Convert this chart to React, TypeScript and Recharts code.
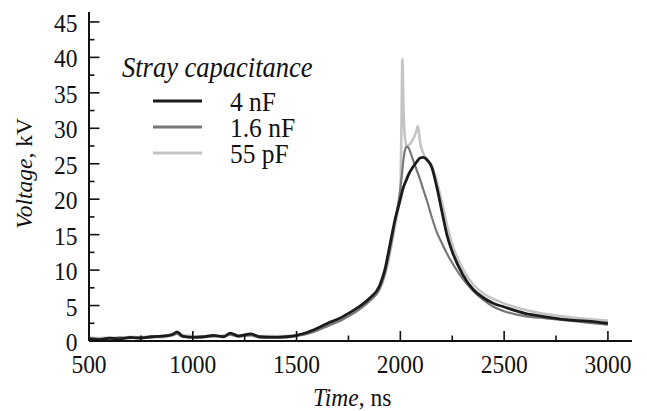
import { Line, LineChart, XAxis, YAxis } from "recharts";

const times = [
  500, 550, 600, 650, 700, 750, 800, 850, 900, 925,
  950, 1000, 1050, 1100, 1150, 1180, 1220, 1280, 1320, 1400,
  1450, 1500, 1550, 1600, 1650, 1700, 1750, 1800, 1850, 1900,
  1925, 1950, 1975, 2000, 2005, 2010, 2015, 2020, 2030, 2040,
  2060, 2075, 2085, 2095, 2110, 2130, 2150, 2175, 2200, 2225,
  2250, 2300, 2350, 2400, 2450, 2500, 2600, 2700, 2800, 2900,
  3000,
];

const nf4 = [
  0.3, 0.2, 0.4, 0.3, 0.5, 0.4, 0.6, 0.7, 0.9, 1.3,
  0.7, 0.5, 0.6, 0.8, 0.6, 1.1, 0.7, 1.0, 0.6, 0.5,
  0.6, 0.8, 1.2, 1.8, 2.5, 3.1, 3.9, 4.8, 6.0, 7.8,
  10.0, 13.6, 17.2, 20.0, 20.6, 21.2, 21.7, 22.1, 22.8, 23.5,
  24.5, 25.1, 25.5, 25.8, 25.9, 25.5, 24.6, 21.8, 18.3, 14.9,
  12.6, 9.4, 7.3, 6.1, 5.3, 4.8, 3.9, 3.4, 3.0, 2.8,
  2.5,
];

const nf16 = [
  0.4, 0.3, 0.3, 0.5, 0.4, 0.6, 0.5, 0.6, 0.8, 1.0,
  0.6, 0.6, 0.5, 0.7, 0.7, 0.9, 0.6, 0.8, 0.5, 0.6,
  0.5, 0.7, 1.0, 1.5, 2.1, 2.7, 3.5, 4.4, 5.6, 7.4,
  9.5, 12.9, 17.0, 21.5, 22.8, 24.2, 25.6, 26.6, 27.4, 27.2,
  25.6, 24.4, 23.6, 22.8, 21.4, 19.6, 17.6, 15.4, 13.8, 12.3,
  11.0, 8.8, 7.1, 5.8, 4.8, 4.2, 3.5, 3.2, 2.9, 2.6,
  2.3,
];

const pf55 = [
  0.5, 0.4, 0.5, 0.4, 0.6, 0.5, 0.7, 0.5, 0.9, 1.1,
  0.8, 0.7, 0.6, 0.6, 0.8, 1.0, 0.8, 0.9, 0.7, 0.7,
  0.7, 0.8, 1.1, 1.6, 2.2, 2.9, 3.6, 4.5, 5.7, 7.2,
  9.2, 12.4, 16.4, 21.0, 29.5, 39.8, 33.0, 29.5, 27.5, 27.6,
  28.4, 29.4, 30.3, 28.0, 26.5, 25.6, 24.8, 22.6, 19.6, 16.4,
  13.7, 10.2, 8.0, 6.7, 5.9, 5.3, 4.4, 3.8, 3.4, 3.1,
  2.9,
];

const xTicks = [500, 750, 1000, 1250, 1500, 1750, 2000, 2250, 2500, 2750, 3000];
const yTicks = [0, 2.5, 5, 7.5, 10, 12.5, 15, 17.5, 20, 22.5, 25, 27.5, 30, 32.5, 35, 37.5, 40, 42.5, 45];

const legendItems = [
  { label: "4 nF", color: "#1b1b1b", width: 3 },
  { label: "1.6 nF", color: "#777777", width: 3 },
  { label: "55 pF", color: "#c4c4c4", width: 3 },
];

const data = times.map((t, i) => ({ t, a: nf4[i], b: nf16[i], c: pf55[i] }));

const FONT = "Liberation Serif";
const STRETCH = 1.1;

function XTick(props: any) {
  const { x, y, payload } = props;
  const major = payload.value % 500 === 0;
  return (
    <g transform={`translate(${x},${y})`}>
      <line x1={0} y1={0} x2={0} y2={major ? -10 : -5.5} stroke="#111" strokeWidth={1.6} />
      {major && (
        <text
          transform={`translate(0,32) scale(1,${STRETCH})`}
          textAnchor="middle"
          style={{ fontFamily: FONT, fontSize: 23.5 }}
          fill="#111"
        >
          {payload.value}
        </text>
      )}
    </g>
  );
}

function YTick(props: any) {
  const { x, y, payload } = props;
  const major = payload.value % 5 === 0;
  return (
    <g transform={`translate(${x},${y})`}>
      <line x1={0} y1={0} x2={major ? 10.5 : 5.5} y2={0} stroke="#111" strokeWidth={1.6} />
      {major && (
        <text
          transform={`translate(-11.5,10) scale(1,${STRETCH})`}
          textAnchor="end"
          style={{ fontFamily: FONT, fontSize: 23.5 }}
          fill="#111"
        >
          {payload.value}
        </text>
      )}
    </g>
  );
}

export default function App() {
  return (
    <div style={{ position: "absolute", left: 0, top: 0, width: 647, height: 411, background: "#fff" }}>
      <LineChart
        width={647}
        height={411}
        data={data}
        margin={{ top: 12, right: 15, left: 0, bottom: 0 }}
      >
        <XAxis
          dataKey="t"
          type="number"
          domain={[500, 3116]}
          ticks={xTicks}
          interval={0}
          height={70}
          tickSize={0}
          tickMargin={0}
          tickLine={false}
          axisLine={{ stroke: "#111", strokeWidth: 2 }}
          tick={<XTick />}
        />
        <YAxis
          type="number"
          domain={[0, 46.4]}
          ticks={yTicks}
          interval={0}
          width={89}
          tickSize={0}
          tickMargin={0}
          tickLine={false}
          axisLine={{ stroke: "#111", strokeWidth: 2 }}
          tick={<YTick />}
        />
        <Line
          dataKey="c"
          name="55 pF"
          type="monotone"
          stroke="#c4c4c4"
          strokeWidth={2.6}
          dot={false}
          isAnimationActive={false}
        />
        <Line
          dataKey="b"
          name="1.6 nF"
          type="monotone"
          stroke="#777777"
          strokeWidth={2.2}
          dot={false}
          isAnimationActive={false}
        />
        <Line
          dataKey="a"
          name="4 nF"
          type="monotone"
          stroke="#1b1b1b"
          strokeWidth={2.8}
          dot={false}
          isAnimationActive={false}
        />
      </LineChart>
      <svg
        width={647}
        height={411}
        style={{ position: "absolute", left: 0, top: 0, pointerEvents: "none" }}
      >
        <text
          transform="translate(122,77) scale(1,1.08)"
          style={{ fontFamily: FONT, fontStyle: "italic", fontSize: 26.5 }}
          fill="#111"
        >
          Stray capacitance
        </text>
        {legendItems.map((item, i) => (
          <g key={item.label}>
            <line
              x1={153}
              x2={202}
              y1={101 + i * 26}
              y2={101 + i * 26}
              stroke={item.color}
              strokeWidth={item.width}
            />
            <text
              transform={`translate(230,${111 + i * 25.8}) scale(1,${STRETCH})`}
              style={{ fontFamily: FONT, fontSize: 25.5 }}
              fill="#111"
            >
              {item.label}
            </text>
          </g>
        ))}
        <text
          transform="translate(32,173.5) rotate(-90)"
          textAnchor="middle"
          style={{ fontFamily: FONT, fontSize: 23.5 }}
          fill="#111"
        >
          <tspan style={{ fontStyle: "italic" }}>Voltage</tspan>, kV
        </text>
        <text
          transform={`translate(313,406) scale(1,${STRETCH})`}
          style={{ fontFamily: FONT, fontSize: 23.5 }}
          fill="#111"
        >
          <tspan style={{ fontStyle: "italic" }}>Time</tspan>, ns
        </text>
      </svg>
    </div>
  );
}
